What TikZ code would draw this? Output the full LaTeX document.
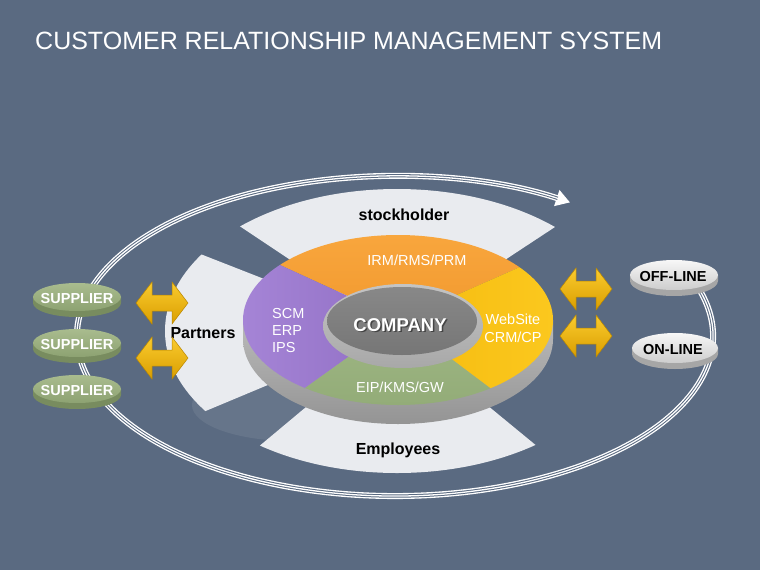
\documentclass[tikz,border=0pt]{standalone}
\usepackage{fontspec}
\setmainfont{Liberation Sans}
\usetikzlibrary{arrows.meta}
\definecolor{bg}{HTML}{5A6A81}
\definecolor{band}{HTML}{E9EBEF}
\definecolor{orA}{HTML}{F8A63D}
\definecolor{orB}{HTML}{EC8C20}
\definecolor{puA}{HTML}{A584D6}
\definecolor{puB}{HTML}{7C5AB2}
\definecolor{grA}{HTML}{ABC291}
\definecolor{grB}{HTML}{93AC78}
\definecolor{yeA}{HTML}{F0AE00}
\definecolor{yeB}{HTML}{FBC81E}
\definecolor{sideA}{HTML}{BABABA}
\definecolor{sideB}{HTML}{949494}
\definecolor{ringA}{HTML}{C4C4C4}
\definecolor{ringB}{HTML}{A8A8A8}
\definecolor{faceA}{HTML}{888888}
\definecolor{faceB}{HTML}{767676}
\definecolor{arA}{HTML}{FACB2E}
\definecolor{arB}{HTML}{DA9E00}
\definecolor{arE}{HTML}{B98700}
\definecolor{supA}{HTML}{A9BC8E}
\definecolor{supB}{HTML}{8DA272}
\definecolor{supS}{HTML}{788C5F}
\definecolor{offA}{HTML}{F7F7F7}
\definecolor{offB}{HTML}{CDCDCD}
\definecolor{offS}{HTML}{A6A6A6}
\tikzset{
  lbl/.style={inner sep=0pt, anchor=base},
  segtxt/.style={lbl, text=white, font=\fontsize{14.5}{17}\selectfont},
  bandtxt/.style={lbl, text=black, font=\bfseries\fontsize{16}{19}\selectfont},
  discW/.style={lbl, text=white, font=\bfseries\fontsize{14.5}{17}\selectfont},
  discB/.style={lbl, text=black, font=\bfseries\fontsize{14.5}{17}\selectfont},
}
\newcommand{\garrow}[2]{%
  \shadedraw[top color=arA, bottom color=arB, draw=arE, line width=0.5pt, line join=miter]
  (#1-26,#2) -- (#1-10,#2-21) -- (#1-10,#2-8) -- (#1+10,#2-8) -- (#1+10,#2-21) --
  (#1+26,#2) -- (#1+10,#2+21) -- (#1+10,#2+8) -- (#1-10,#2+8) -- (#1-10,#2+21) -- cycle;}
\newcommand{\mydisc}[7]{% cx cy rx ry side topA topB
  \fill[#5] (#1-#3,#2) -- (#1-#3,#2+6) arc[start angle=180, end angle=0, x radius=#3, y radius=#4] -- (#1+#3,#2) -- cycle;
  \shade[top color=#6, bottom color=#7] (#1,#2) ellipse[x radius=#3, y radius=#4];}
\begin{document}
\begin{tikzpicture}[x=1pt,y=-1pt]
\fill[bg] (0,0) rectangle (760,570);
\useasboundingbox (0,0) rectangle (760,570);

% title
\node[lbl, text=white, font=\fontsize{25}{30}\selectfont, anchor=base west] (title) at (35,49)
  {CUSTOMER RELATIONSHIP MANAGEMENT SYSTEM};

% loop
\coordinate (lc) at (395,336);
\draw[white, line width=6pt, -{Triangle[length=14pt,width=16pt]}]
  ([shift={(-20:318 and 160)}]lc) arc[start angle=-20, end angle=303.4, x radius=318, y radius=160];
\draw[bg, line width=3.3pt, shorten >=13pt]
  ([shift={(-20:318 and 160)}]lc) arc[start angle=-20, end angle=303.4, x radius=318, y radius=160];
\draw[white, line width=1.3pt, shorten >=12pt]
  ([shift={(-20:318 and 160)}]lc) arc[start angle=-20, end angle=303.4, x radius=318, y radius=160];

% soft reflection
\fill[white, opacity=0.08] (292,405) ellipse[x radius=100, y radius=36];

% white bands
\coordinate (bc) at (397,331);
\begin{scope}
  \clip (bc) -- (79,119) -- (719,119) -- cycle;
  \fill[band] (bc) ellipse[x radius=232, y radius=142];
\end{scope}
\begin{scope}
  \clip (bc) -- (19,183) -- (19,489) -- cycle;
  \fill[band] (bc) ellipse[x radius=232, y radius=142];
\end{scope}
\begin{scope}
  \clip (bc) -- (117,565) -- (679,563) -- cycle;
  \fill[band] (bc) ellipse[x radius=232, y radius=142];
\end{scope}

% disk side
\shade[top color=sideA, bottom color=sideB] (243,320) -- (243,339) arc[start angle=180, end angle=0, x radius=155, y radius=85] -- (553,320) -- cycle;
% disk segments
\coordinate (dc) at (400,320);
\begin{scope}
  \clip (dc) -- (40,155) -- (760,161) -- cycle;
  \shade[top color=orA, bottom color=orB] (398,320) ellipse[x radius=155, y radius=85];
\end{scope}
\begin{scope}
  \clip (dc) -- (40,155) -- (115,524) -- cycle;
  \shade[left color=puA, right color=puB] (398,320) ellipse[x radius=155, y radius=85];
\end{scope}
\begin{scope}
  \clip (dc) -- (115,524) -- (679,530) -- cycle;
  \shade[top color=grA, bottom color=grB] (398,320) ellipse[x radius=155, y radius=85];
\end{scope}
\begin{scope}
  \clip (dc) -- (679,530) -- (760,161) -- cycle;
  \shade[left color=yeA, right color=yeB] (398,320) ellipse[x radius=155, y radius=85];
\end{scope}
% inner hub
\shade[top color=ringA, bottom color=ringB] (403,326) ellipse[x radius=80, y radius=42];
\shade[top color=faceA, bottom color=faceB] (402,321) ellipse[x radius=75, y radius=34];

% segment texts
\node[segtxt] (irm) at (417,265) {IRM/RMS/PRM};
\node[segtxt, anchor=base west] (scm) at (272,318) {SCM};
\node[segtxt, anchor=base west] (erp) at (272,335) {ERP};
\node[segtxt, anchor=base west] (ips) at (272,352) {IPS};
\node[segtxt] (web) at (513,324) {WebSite};
\node[segtxt] (crm) at (513,342) {CRM/CP};
\node[segtxt] (eip) at (400,392) {EIP/KMS/GW};
\node[lbl, text=black, opacity=0.45, font=\bfseries\fontsize{18.5}{22}\selectfont] (compshadow) at (401.5,332.5) {COMPANY};
\node[lbl, text=white, font=\bfseries\fontsize{18.5}{22}\selectfont] (company) at (400,331) {COMPANY};

% band texts
\node[bandtxt] (stock) at (404,220) {stockholder};
\node[bandtxt] (emp) at (398,454) {Employees};
\node[bandtxt] (partners) at (203,338) {Partners};

% arrows
\garrow{162}{303}
\garrow{162}{358}
\garrow{586}{289}
\garrow{586}{336}

% suppliers
\mydisc{77}{297}{44}{14}{supS}{supA}{supB}
\mydisc{77}{343}{44}{14}{supS}{supA}{supB}
\mydisc{77}{389}{44}{14}{supS}{supA}{supB}
\node[discW] (sup1) at (77,303) {SUPPLIER};
\node[discW] (sup2) at (77,349) {SUPPLIER};
\node[discW] (sup3) at (77,395) {SUPPLIER};

% off-line / on-line
\mydisc{674}{275}{44}{15}{offS}{offA}{offB}
\mydisc{675}{348}{43}{15}{offS}{offA}{offB}
\node[discB] (offline) at (673,281) {OFF-LINE};
\node[discB] (online) at (673,354) {ON-LINE};
\end{tikzpicture}
\end{document}
